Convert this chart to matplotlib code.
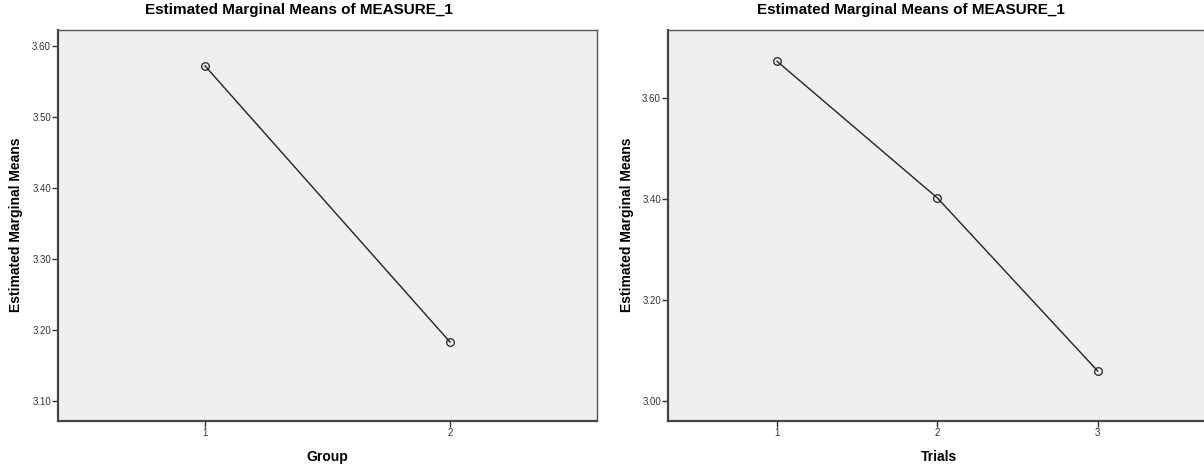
import matplotlib.pyplot as plt

plt.rcParams['font.family'] = ['Liberation Sans', 'DejaVu Sans']

group_x = [1, 2]
group_means = [3.572, 3.183]
group_ticks = [3.10, 3.20, 3.30, 3.40, 3.50, 3.60]

trial_x = [1, 2, 3]
trial_means = [3.673, 3.402, 3.059]
trial_ticks = [3.00, 3.20, 3.40, 3.60]

title = 'Estimated Marginal Means of MEASURE_1'
ylab = 'Estimated Marginal Means'

W, H = 1204, 469
fig = plt.figure(figsize=(W / 100, H / 100), dpi=100)


def box(x0, y0, x1, y1):
    # pixel box -> figure fraction
    return [x0 / W, 1 - y1 / H, (x1 - x0) / W, (y1 - y0) / H]


def panel(rect, xs, ys, xlim, ylim, yticks, xlabel, title_x, ylab_x):
    ax = fig.add_axes(rect)
    ax.set_facecolor('#efefef')
    ax.plot(xs, ys, color='#222222', linewidth=1.0, marker='o', markersize=5.5,
            markerfacecolor='none', markeredgecolor='#222222', markeredgewidth=0.9)
    ax.set_xlim(*xlim)
    ax.set_ylim(*ylim)
    ax.set_xticks(xs)
    ax.set_yticks(yticks)
    ax.set_yticklabels([f'{v:.2f}' for v in yticks])
    ax.tick_params(axis='both', labelsize=7, colors='#333333', length=4, width=1.0, pad=1)
    for s in ['left', 'bottom']:
        ax.spines[s].set_color('#444444')
        ax.spines[s].set_linewidth(1.6)
    for s in ['top', 'right']:
        ax.spines[s].set_color('#555555')
        ax.spines[s].set_linewidth(1.0)
    ax.set_xlabel(xlabel, fontsize=10, fontweight='bold', labelpad=9)
    fig.text(title_x / W, 1 - 10 / H, title, ha='center', va='center',
             fontsize=11, fontweight='bold')
    fig.text(ylab_x / W, 1 - 225 / H, ylab, ha='center', va='center', rotation=90,
             fontsize=10, fontweight='bold')
    return ax


panel(box(58, 30, 597, 421), group_x, group_means, (0.4, 2.6), (3.0718, 3.6225),
      group_ticks, 'Group', 299, 16)
panel(box(668, 30, 1210, 421), trial_x, trial_means, (0.32, 3.7), (2.96, 3.735),
      trial_ticks, 'Trials', 911, 627)

fig.savefig('out.png', dpi=100)
